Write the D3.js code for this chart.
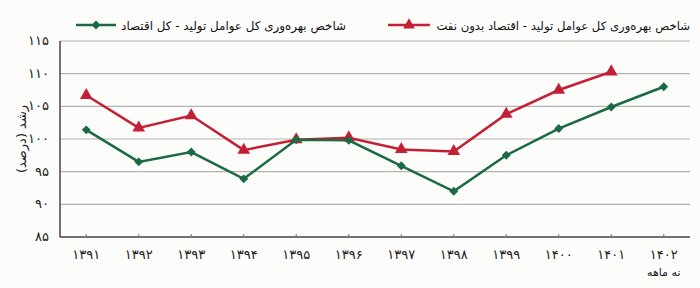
<!DOCTYPE html>
<meta charset="utf-8">
<script src="https://d3js.org/d3.v7.min.js"></script>
<style>
  body { margin: 0; background: #fcfcfb; }
  text { font-family: "DejaVu Sans", sans-serif; }
</style>
<div id="chart"></div>
<script>

// data
var years = ["۱۳۹۱","۱۳۹۲","۱۳۹۳","۱۳۹۴","۱۳۹۵","۱۳۹۶","۱۳۹۷","۱۳۹۸","۱۳۹۹","۱۴۰۰","۱۴۰۱","۱۴۰۲"];
var totalEconomy = [101.4, 96.5, 98.0, 93.9, 99.9, 99.8, 95.9, 92.0, 97.5, 101.6, 104.9, 108.0];
var nonOilEconomy = [106.7, 101.7, 103.6, 98.3, 99.9, 100.2, 98.4, 98.1, 103.8, 107.5, 110.3, null];
var yTicks = [85, 90, 95, 100, 105, 110, 115];
var yTickLabels = ["۸۵","۹۰","۹۵","۱۰۰","۱۰۵","۱۱۰","۱۱۵"];
var legendNames = ["شاخص بهره‌وری کل عوامل تولید - کل اقتصاد", "شاخص بهره‌وری کل عوامل تولید - اقتصاد بدون نفت"];

var width = 700, height = 288;
var margin = {top: 41, right: 10, bottom: 51, left: 60};
var green = "#1b6a43", red = "#c31f35";

var svg = d3.select("#chart").append("svg")
  .attr("width", width)
  .attr("height", height);

var x = d3.scaleBand()
  .domain(years)
  .range([margin.left, width - margin.right]);

var y = d3.scaleLinear()
  .domain([85, 115])
  .range([height - margin.bottom, margin.top]);

// gridlines
svg.append("g")
  .selectAll("line")
  .data(yTicks.slice(1))
  .enter().append("line")
    .attr("x1", margin.left)
    .attr("x2", width - margin.right)
    .attr("y1", function(d) { return y(d); })
    .attr("y2", function(d) { return y(d); })
    .style("stroke", "#b3b3b3")
    .style("stroke-width", 1.2);

// y tick labels
svg.append("g")
  .selectAll("text")
  .data(yTicks)
  .enter().append("text")
    .attr("x", 49)
    .attr("y", function(d) { return y(d) + 4; })
    .attr("text-anchor", "end")
    .style("font-size", "13px")
    .style("fill", "#222")
    .text(function(d, i) { return yTickLabels[i]; });

// axes lines
svg.append("line")
  .attr("x1", margin.left).attr("x2", margin.left)
  .attr("y1", margin.top).attr("y2", y(85))
  .style("stroke", "#444").style("stroke-width", 1.5);
svg.append("line")
  .attr("x1", margin.left).attr("x2", width - margin.right)
  .attr("y1", y(85)).attr("y2", y(85))
  .style("stroke", "#444").style("stroke-width", 1.5);

// x ticks and labels
var xg = svg.append("g")
  .selectAll("g")
  .data(years)
  .enter().append("g")
    .attr("transform", function(d) { return "translate(" + (x(d) + x.bandwidth() / 2) + ",0)"; });
xg.append("line")
  .attr("y1", y(85) - 3).attr("y2", y(85))
  .style("stroke", "#777");
xg.append("text")
  .attr("y", 259)
  .attr("text-anchor", "middle")
  .style("font-size", "13px")
  .style("fill", "#222")
  .text(function(d) { return d; });

svg.append("text")
  .attr("x", x(years[11]) + x.bandwidth() / 2)
  .attr("y", 276)
  .attr("text-anchor", "middle")
  .style("font-size", "11px")
  .style("fill", "#222")
  .text("نه ماهه");

// y axis title
svg.append("text")
  .attr("transform", "translate(26," + y(100) + ") rotate(-90)")
  .attr("text-anchor", "middle")
  .style("font-size", "13px")
  .style("fill", "#222")
  .text("رشد (درصد)");

function cx(d, i) { return x(years[i]) + x.bandwidth() / 2; }

var line = d3.line()
  .defined(function(d) { return d != null; })
  .x(cx)
  .y(function(d) { return y(d); });

// red series
svg.append("path")
  .datum(nonOilEconomy)
  .attr("d", line)
  .style("fill", "none")
  .style("stroke", red)
  .style("stroke-width", 2.5);
svg.append("g")
  .selectAll("path")
  .data(nonOilEconomy.map(function(d, i) { return {v: d, i: i}; }).filter(function(d) { return d.v != null; }))
  .enter().append("path")
    .attr("d", d3.symbol().type(d3.symbolTriangle).size(70))
    .attr("transform", function(d) { return "translate(" + cx(d.v, d.i) + "," + y(d.v) + ")"; })
    .style("fill", red);

// green series
svg.append("path")
  .datum(totalEconomy)
  .attr("d", line)
  .style("fill", "none")
  .style("stroke", green)
  .style("stroke-width", 2.5);
svg.append("g")
  .selectAll("path")
  .data(totalEconomy)
  .enter().append("path")
    .attr("d", d3.symbol().type(d3.symbolSquare).size(40))
    .attr("transform", function(d, i) { return "translate(" + cx(d, i) + "," + y(d) + ") rotate(45)"; })
    .style("fill", green);

// legend
var legend = [
  {name: legendNames[0], color: green, x1: 76, x2: 116, textX: 346, textW: 225, sym: d3.symbolSquare, size: 40, rot: 45},
  {name: legendNames[1], color: red, x1: 388, x2: 430, textX: 690, textW: 254, sym: d3.symbolTriangle, size: 60, rot: 0}
];
var lg = svg.append("g").selectAll("g").data(legend).enter().append("g");
lg.append("line")
  .attr("x1", function(d) { return d.x1; })
  .attr("x2", function(d) { return d.x2; })
  .attr("y1", 25).attr("y2", 25)
  .style("stroke", function(d) { return d.color; })
  .style("stroke-width", 2.5);
lg.append("path")
  .attr("d", function(d) { return d3.symbol().type(d.sym).size(d.size)(); })
  .attr("transform", function(d) { return "translate(" + ((d.x1 + d.x2) / 2) + ",25) rotate(" + d.rot + ")"; })
  .style("fill", function(d) { return d.color; });
lg.append("text")
  .attr("x", function(d) { return d.textX; })
  .attr("y", 30)
  .attr("text-anchor", "end")
  .style("font-size", "13px")
  .style("fill", "#111")
  .text(function(d) { return d.name; })
  .each(function(d) {
    // shrink font so the label fits the width seen in the picture
    var w = this.getComputedTextLength();
    if (w > d.textW) d3.select(this).style("font-size", (13 * d.textW / w) + "px");
  });

</script>
